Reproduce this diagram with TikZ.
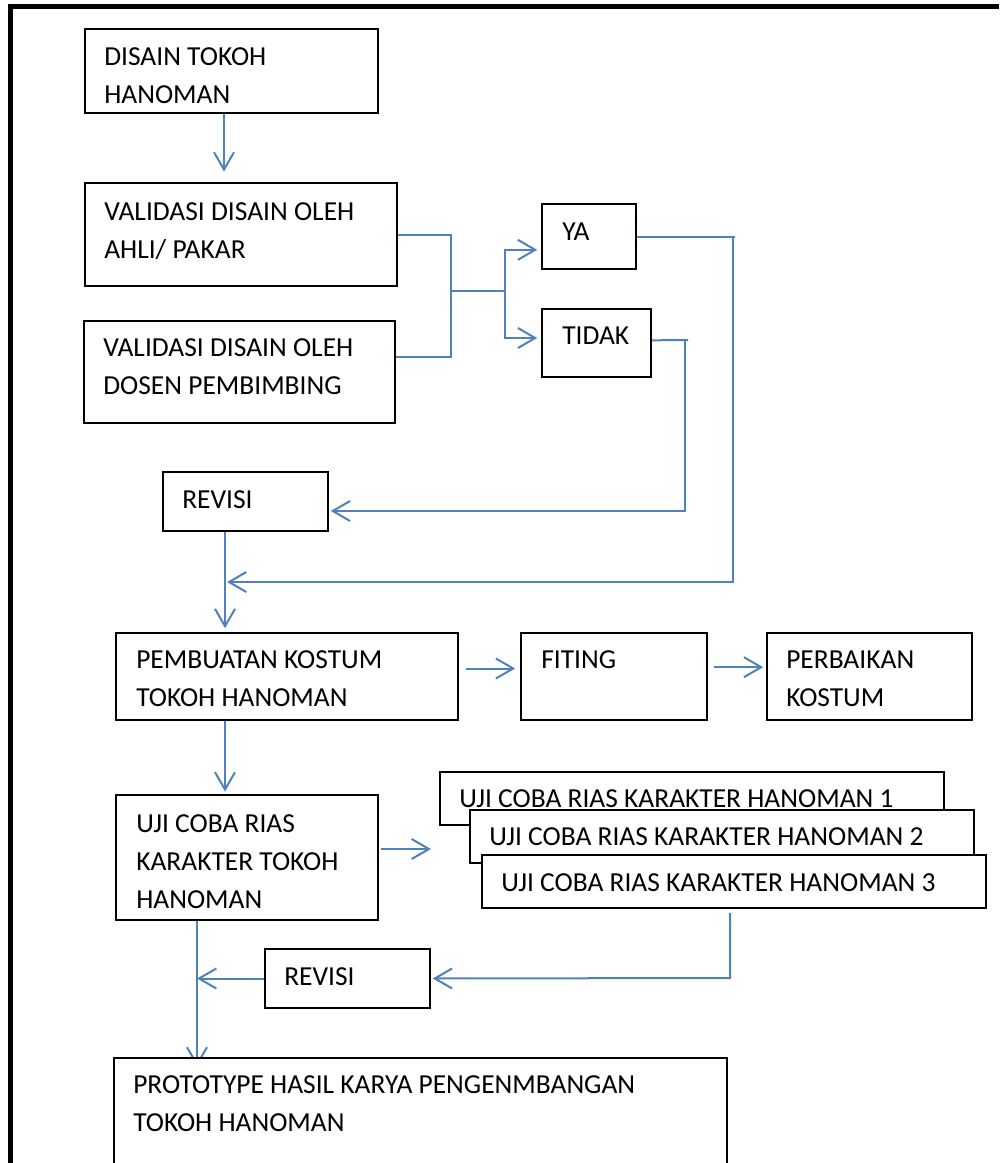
\documentclass[tikz,border=0pt]{standalone}
\usepackage{fontspec}
\setmainfont{Carlito}
\usetikzlibrary{arrows.meta,fit,backgrounds}
\definecolor{lnblue}{RGB}{79,129,189}
\begin{document}
\begin{tikzpicture}[x=0.75pt,y=-0.75pt,
  box/.style={draw=black,line width=1.15pt,fill=white,inner sep=0pt},
  txt/.style={font=\fontsize{20.6}{28.5}\selectfont,align=left,anchor=west,inner sep=0pt},
  conn/.style={draw=lnblue,line width=1.5pt},
  arr/.style={conn,-{Straight Barb[length=13pt,width=15pt,line width=1.5pt]}}]
\useasboundingbox (0,0) rectangle (1000,1163);
% frame (top and left edges only)
\draw[line width=3.75pt] (10.5,1163) -- (10.5,6.5) -- (999,6.5);
% boxes
\node[box,fit={(85,29) (378,113)}] (disain) {};
\node[box,fit={(85,183) (397,286)}] (val1) {};
\node[box,fit={(84,321) (395,423)}] (val2) {};
\node[box,fit={(542,204) (636,269)}] (ya) {};
\node[box,fit={(542,309) (651,377)}] (tidak) {};
\node[box,fit={(163,472) (328,531)}] (revisi) {};
\node[box,fit={(116,633) (458,720)}] (pemb) {};
\node[box,fit={(521,633) (707,720)}] (fiting) {};
\node[box,fit={(767,633) (972,720)}] (perb) {};
\node[box,fit={(116,795) (378,920)}] (uji) {};
\node[box,fit={(440,772) (944,825)}] (u1) {};
\node[box,fit={(470,810) (974,863)}] (u2) {};
\node[box,fit={(482,855) (986,908)}] (u3) {};
\node[box,fit={(265,949) (430,1008)}] (revisi2) {};
\node[box,fit={(114,1058) (727,1175)}] (proto) {};
% texts
\node[txt] (tdisain) at (104,76) {DISAIN TOKOH\\HANOMAN};
\node[txt] (tval1) at (104,231) {VALIDASI DISAIN OLEH\\AHLI/ PAKAR};
\node[txt] (tval2) at (103,367) {VALIDASI DISAIN OLEH\\DOSEN PEMBIMBING};
\node[txt] (tya) at (562,232) {YA};
\node[txt] (ttidak) at (562,336) {TIDAK};
\node[txt] (trevisi) at (182,500) {REVISI};
\node[txt] (tpemb) at (136,679) {PEMBUATAN KOSTUM\\TOKOH HANOMAN};
\node[txt] (tfiting) at (541,660) {FITING};
\node[txt] (tperb) at (786,679) {PERBAIKAN\\KOSTUM};
\node[txt] (tuji) at (136,862) {UJI COBA RIAS\\KARAKTER TOKOH\\HANOMAN};
\node[txt] (tu1) at (459,799) {UJI COBA RIAS KARAKTER HANOMAN 1};
\node[txt] (tu2) at (489,837) {UJI COBA RIAS KARAKTER HANOMAN 2};
\node[txt] (tu3) at (501,883) {UJI COBA RIAS KARAKTER HANOMAN 3};
\node[txt] (trevisi2) at (284,977) {REVISI};
\node[txt] (tproto) at (133,1104) {PROTOTYPE HASIL KARYA PENGENMBANGAN\\TOKOH HANOMAN};
% helper coordinates
\coordinate (xa) at (224,0);
\coordinate (j1) at (451,291);
\coordinate (j2) at (505,291);
\coordinate (y357) at (0,357);
\coordinate (yar) at (735,0);
\coordinate (yab) at (733,582);
\coordinate (xrv) at (225,0);
\coordinate (tdr) at (688,340);
\coordinate (tdb) at (685,511);
\coordinate (stin) at (431,849);
\coordinate (u3b) at (730,978);
\coordinate (xuj) at (197,0);
\begin{scope}[on background layer]
\draw[arr,shorten >=8pt] (disain.south -| xa) -- (val1.north -| xa);
\draw[conn] (val1.east) -| (j1);
\draw[conn] (val2.east |- y357) -| (j1);
\draw[conn,line width=2.1pt] (j1) -- (j2);
\draw[arr,shorten >=3pt] (j2) |- ([yshift=-10pt]ya.west);
\draw[arr,shorten >=3pt] (j2) |- ([yshift=3.75pt]tidak.west);
\draw[conn] (ya.east) -- (ya.east -| yar);
\draw[arr,shorten >=1.5pt] (ya.east -| yab) -- (yab) -- (xrv |- yab);
\draw[conn] ([yshift=2pt]tidak.east) -- (tdr);
\draw[arr,shorten >=1.5pt] (tdb |- tdr) -- (tdb) -- (revisi.east |- tdb);
\draw[arr,shorten >=3pt] (revisi.south -| xrv) -- (pemb.north -| xrv);
\draw[arr,shorten <=5.25pt,shorten >=3.75pt] ([yshift=6pt]pemb.east) -- ([yshift=6pt]fiting.west);
\draw[arr,shorten <=4.5pt,shorten >=2.25pt] ([yshift=7pt]fiting.east) -- ([yshift=7pt]perb.west);
\draw[arr,shorten >=2pt] (pemb.south -| xrv) -- (uji.north -| xrv);
\draw[arr,shorten <=1.5pt] (uji.east |- stin) -- (stin);
\draw[arr,shorten <=3pt,shorten >=1.5pt] (u3.south -| u3b) -- (u3b) -- (revisi2.east);
\draw[arr] (revisi2.west) -- (revisi2.west -| xuj);
\draw[arr,shorten >=-7pt] (uji.south -| xuj) -- (proto.north -| xuj);
\end{scope}
\end{tikzpicture}
\end{document}
